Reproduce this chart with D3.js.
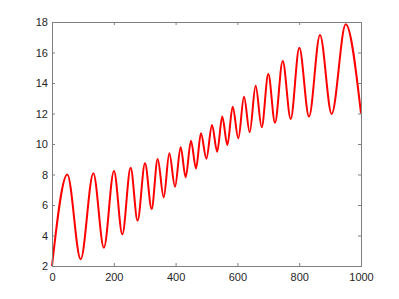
<!DOCTYPE html>
<html>
<head>
<meta charset="utf-8">
<script src="https://cdn.jsdelivr.net/npm/d3@7"></script>
<style>
  html, body { margin: 0; padding: 0; background: #fff; }
  svg { display: block; }
  .tick text { font-family: "Liberation Sans", Arial, sans-serif; font-size: 11px; fill: #262626; }
</style>
</head>
<body>
<svg id="svg" width="399" height="299"></svg>
<script>
// --- DATA (turning points) ---
const pointX = [0, 49.6, 92.8, 133.8, 168, 200.6, 227.6, 254.5, 277, 301, 322.5, 342, 361.5,
  379.7, 398, 416.4, 432.6, 449.8, 466, 482, 499.5, 517.8, 534.5, 551, 567.5, 584.7, 603,
  621.4, 639.8, 659, 678.6, 700, 721.7, 746.6, 772.5, 800.4, 831.7, 867.3, 905, 950.5, 1000];
const pointY = [2, 8.0, 2.44, 8.08, 3.2, 8.23, 4.08, 8.45, 4.97, 8.73, 5.74, 9.02, 6.5,
  9.39, 7.2, 9.78, 7.82, 10.22, 8.4, 10.7, 9.04, 11.25, 9.5, 11.8, 9.93, 12.45, 10.37,
  13.1, 10.77, 13.82, 11.1, 14.59, 11.4, 15.44, 11.64, 16.31, 11.8, 17.15, 11.97, 17.85, 12.0];
const xTicks = [0, 200, 400, 600, 800, 1000];
const yTicks = [2, 4, 6, 8, 10, 12, 14, 16, 18];

// --- LAYOUT ---
const LEFT = 52, RIGHT = 361, TOP = 22, BOTTOM = 266;
const TICK = 3;
const AXIS_COLOR = "#7f7f7f";

const svg = d3.select("#svg");
const x = d3.scaleLinear().domain([0, 1000]).range([LEFT, RIGHT]);
const y = d3.scaleLinear().domain([2, 18]).range([BOTTOM, TOP]);

// line
const data = pointX.map((v, i) => [v, pointY[i]]);
const line = d3.line()
  .x(d => x(d[0]))
  .y(d => y(d[1]))
  .curve(d3.curveMonotoneX);

svg.append("path")
  .datum(data)
  .attr("d", line)
  .attr("fill", "none")
  .attr("stroke", "#ff0000")
  .attr("stroke-width", 2)
  .attr("stroke-linejoin", "round");

// axes, MATLAB style: box with inward ticks on all sides
function styleAxis(sel) {
  sel.select(".domain").remove();
  sel.selectAll(".tick line").attr("stroke", AXIS_COLOR);
}

svg.append("g")
  .attr("transform", `translate(0,${BOTTOM})`)
  .call(d3.axisBottom(x).tickValues(xTicks).tickSize(-TICK).tickPadding(7).tickFormat(d3.format("d")))
  .call(styleAxis);

svg.append("g")
  .attr("transform", `translate(0,${TOP})`)
  .call(d3.axisTop(x).tickValues(xTicks).tickSize(-TICK).tickFormat(""))
  .call(styleAxis);

svg.append("g")
  .attr("transform", `translate(${LEFT},0)`)
  .call(d3.axisLeft(y).tickValues(yTicks).tickSize(-TICK).tickPadding(4).tickFormat(d3.format("d")))
  .call(styleAxis);

svg.append("g")
  .attr("transform", `translate(${RIGHT},0)`)
  .call(d3.axisRight(y).tickValues(yTicks).tickSize(-TICK).tickFormat(""))
  .call(styleAxis);

svg.selectAll(".tick text").attr("fill", "#262626");

// box
svg.append("rect")
  .attr("x", LEFT + 0.5)
  .attr("y", TOP + 0.5)
  .attr("width", RIGHT - LEFT)
  .attr("height", BOTTOM - TOP)
  .attr("fill", "none")
  .attr("stroke", AXIS_COLOR)
  .attr("stroke-width", 1);
</script>
</body>
</html>
